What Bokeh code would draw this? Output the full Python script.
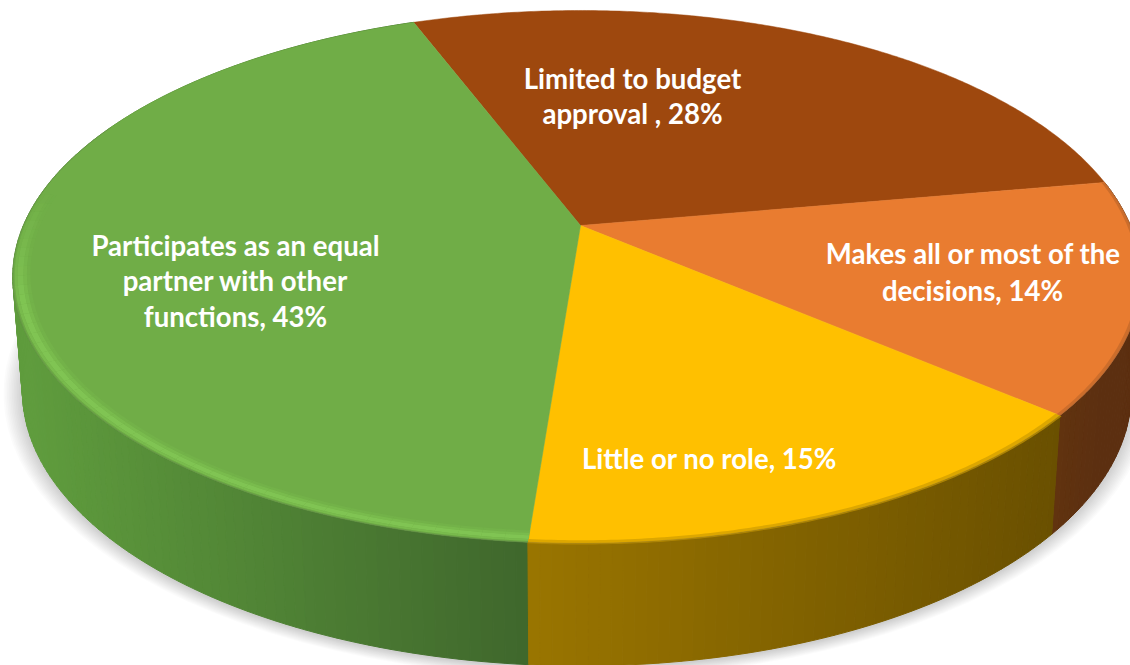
import math
from bokeh.plotting import figure
from bokeh.models import Range1d
from bokeh.core.properties import value
from bokeh.embed import file_html
from bokeh.resources import INLINE

# Data, clockwise from the first slice
categories = ["Limited to budget approval", "Makes all or most of the decisions", "Little or no role",
              "Participates as an equal partner with other functions"]
shares = [28, 14, 15, 43]
top_colors = ["#9E480E", "#E97C30", "#FFC000", "#70AD47"]
wall_left = ["#6b340c", "#61330f", "#9a7500", "#5f9c3d"]
wall_right = ["#6b340c", "#5c2f10", "#6a5000", "#3f672c"]
rim_colors = ["#8f420d", "#c96c2b", "#d9a400", "#80c453"]

label_lines = ["Limited to budget", "approval , 28%", "Makes all or most of the", "decisions, 14%",
               "Little or no role, 15%", "Participates as an equal", "partner with other", "functions, 43%"]
label_x = [632, 632, 973, 972, 709, 235, 235, 235]
label_y = [78, 113, 253, 290, 458, 245, 280, 316]

# Projection of the tilted disc onto the page
CX, CY = 580.0, 225.0
A, B, K = 553.5, 256.5, 0.193
SKEW = 0.0065
START = -20.8
DROP, Y_SCALE, X_SCALE = 113.0, 1.03, 0.983
W, H = 1130, 665


def top(theta, r=1.0):
    t = math.radians(theta)
    d = 1 + K * r * math.cos(t)
    c = math.sin(t)
    return CX + A * r * c * (1 - SKEW * c) / d, CY - B * r * math.cos(t) / d


def bottom(theta, r=1.0):
    x, y = top(theta, r)
    return CX + X_SCALE * (x - CX), CY + Y_SCALE * (y - CY) + DROP


def mix(c1, c2, f):
    f = max(0.0, min(1.0, f))
    a = [int(c1[i:i + 2], 16) for i in (1, 3, 5)]
    b = [int(c2[i:i + 2], 16) for i in (1, 3, 5)]
    return "#%02x%02x%02x" % tuple(round(p + (q - p) * f) for p, q in zip(a, b))


def steps(a0, a1, size=1.0):
    n = max(1, int(abs(a1 - a0) / size))
    return [a0 + (a1 - a0) * i / n for i in range(n + 1)]


edges = [START]
for v in shares:
    edges.append(edges[-1] + v * 360.0 / sum(shares))

p = figure(width=W, height=H, output_backend="svg", toolbar_location=None,
           x_range=Range1d(0, W), y_range=Range1d(H, 0),
           x_axis_type=None, y_axis_type=None, min_border=0,
           background_fill_color="white", border_fill_color="white", outline_line_color=None)
p.grid.visible = False

# Soft shadow under the disc
ring = steps(0, 360, 3)
for i in range(12):
    grow = 1.034 - i * 0.003
    pts = [bottom(t) for t in ring]
    cy0 = CY + DROP + 30
    xs = [CX + (x - CX) * grow for x, _ in pts]
    ys = [cy0 + (y - cy0) * grow + 2 for _, y in pts]
    p.patch(xs, ys, fill_color="#000000", fill_alpha=0.016, line_color=None)

# Side wall, strip by strip
wx, wy, wc = [], [], []
for i in range(4):
    a0, a1 = edges[i], edges[i + 1]
    if i == 0:
        continue
    grid = steps(a0, a1, 1.0)
    x_first, x_last = top(a0)[0], top(a1)[0]
    for u, v in zip(grid[:-1], grid[1:]):
        tu, tv = top(u), top(v)
        bu, bv = bottom(u), bottom(v)
        mid = (tu[0] + tv[0]) / 2
        lo, hi = min(x_first, x_last), max(x_first, x_last)
        if i == 3:
            lo = CX - A
        wx.append([tu[0], tv[0], bv[0], bu[0]])
        wy.append([tu[1], tv[1], bv[1], bu[1]])
        wc.append(mix(wall_left[i], wall_right[i], (mid - lo) / (hi - lo)))
order = sorted(range(len(wx)), key=lambda j: sum(wy[j]))
p.patches([wx[j] for j in order], [wy[j] for j in order],
          fill_color=[wc[j] for j in order], line_color=[wc[j] for j in order], line_width=1)

# Top face slices from the shares
for i in range(4):
    pts = [top(t) for t in steps(edges[i], edges[i + 1], 0.5)]
    xs = [CX] + [q[0] for q in pts]
    ys = [CY] + [q[1] for q in pts]
    p.patch(xs, ys, fill_color=top_colors[i], line_color=top_colors[i], line_width=0.5)


def band(a0, a1, r0, r1, color, alpha=1.0):
    grid = steps(a0, a1, 0.5)
    outer = [top(t, r1) for t in grid]
    inner = [top(t, r0) for t in reversed(grid)]
    p.patch([q[0] for q in outer + inner], [q[1] for q in outer + inner],
            fill_color=color, fill_alpha=alpha, line_color=None)


# Bevel of the green slice: light from the front seam up the left edge
green_a0 = edges[3]
green_a1 = edges[4]
grid = steps(green_a0, green_a1 - 60, 2.0)
bands = [(0.970, 0.976, "#73b249"), (0.976, 0.982, "#79bb4d"), (0.982, 0.992, rim_colors[3]),
         (0.992, 0.997, "#79bb4d"), (0.997, 1.0, "#6ca845")]
for r0, r1, col in bands:
    for u, v in zip(grid[:-1], grid[1:]):
        fade = min(1.0, max(0.0, (green_a1 - 60 - v) / 25))
        band(u, v, r0, r1, col, fade)

# Blurred front rim of the other slices
band(edges[2], edges[3], 0.992, 1.0, rim_colors[2], 0.9)
band(edges[2], edges[3], 1.0, 1.003, "#b58a00", 0.9)
band(edges[1], edges[2], 0.994, 1.0, rim_colors[1], 0.9)

# Thin dark back edge
back = [top(t, 1.0) for t in steps(edges[3] + 110, edges[0] + 101, 1.0)]
p.line([q[0] for q in back], [q[1] for q in back], line_color="#555555", line_alpha=0.2, line_width=1)

p.text(label_x, label_y, text=label_lines, text_color="white", text_font=value("Lato"),
       text_font_style="bold", text_font_size="27.6px", text_align="center", text_baseline="middle")

open("out.html", "w").write(file_html(p, INLINE))
